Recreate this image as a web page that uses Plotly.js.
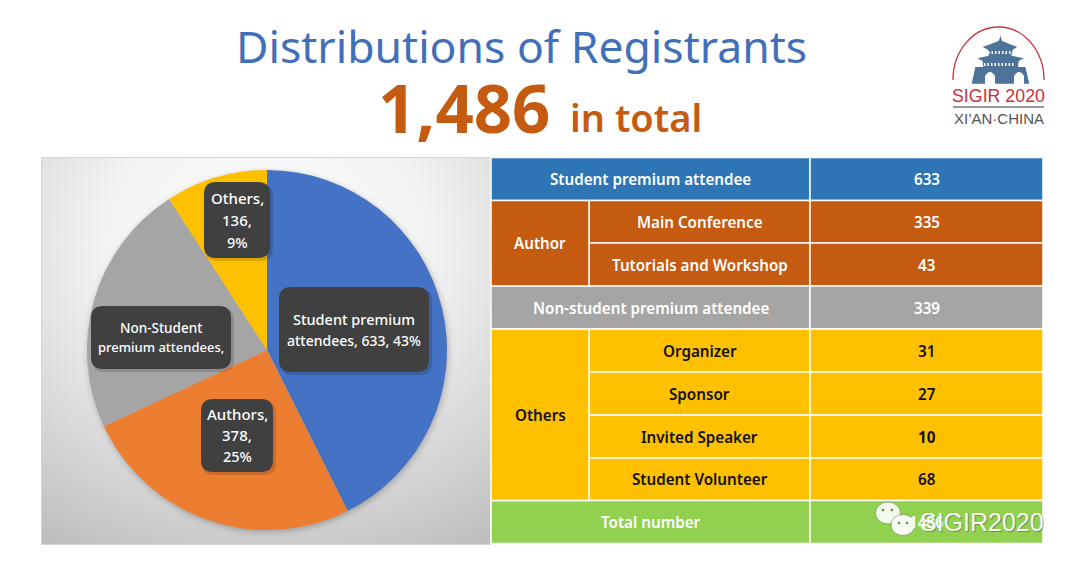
<!DOCTYPE html>
<html>
<head>
<meta charset="utf-8">
<script src="https://cdn.plot.ly/plotly-3.0.1.min.js"></script>
<style>
html, body { margin: 0; padding: 0; background: #fff; }
#wrap { position: relative; width: 1080px; height: 568px; overflow: hidden; }
#panel {
    position: absolute; left: 41px; top: 157px; width: 448px; height: 386px;
    border: 1px solid #d4d4d4;
    background: radial-gradient(ellipse 92% 92% at 50% 22%, #ffffff 0%, #f2f2f2 40%, #d0d0d0 80%, #bdbdbd 100%);
}
#chart { position: absolute; left: 0; top: 0; }
.pielayer { filter: drop-shadow(1px 2px 3px rgba(0,0,0,0.25)); }
</style>
</head>
<body>
<div id="wrap">
    <div id="panel"></div>
    <div id="chart"></div>
</div>
<script>
var W = 1080, H = 568;

// pie data
var pieCategories = ['Student premium attendees', 'Authors', 'Non-Student premium attendees', 'Others'];
var pieValues = [633, 378, 339, 136];
var piePercents = ['43%', '25%', '', '9%'];

// table data
var tableGroups = ['Author', 'Others'];
var tableLabels = ['Student premium attendee', 'Main Conference', 'Tutorials and Workshop',
    'Non-student premium attendee', 'Organizer', 'Sponsor', 'Invited Speaker', 'Student Volunteer', 'Total number'];
var tableValues = [633, 335, 43, 339, 31, 27, 10, 68, 1486];

var titleText = 'Distributions of Registrants';
var totalText = '1,486';
var totalSuffix = 'in total';

// geometry, all in page pixels
var colX = [491, 589, 810, 1043];
var rowY = [157.5, 200.5, 243, 286, 329, 372, 415, 458, 500.5, 543.5];
var baseFont = 'Noto Sans, sans-serif';
var logoFont = 'Liberation Sans, sans-serif';

function px(x) { return x / W; }
function py(y) { return 1 - y / H; }

var shapes = [];
var annotations = [];

function rect(x0, y0, x1, y1, fill) {
    shapes.push({
        type: 'rect', xref: 'paper', yref: 'paper', layer: 'above',
        x0: px(x0), x1: px(x1), y0: py(y0), y1: py(y1),
        fillcolor: fill, line: { color: '#ffffff', width: 1.5 }
    });
}

function text(x, y, str, size, color, weight, family) {
    annotations.push({
        xref: 'paper', yref: 'paper', x: px(x), y: py(y), text: str, showarrow: false,
        xanchor: 'center', yanchor: 'middle', align: 'center',
        borderpad: 0, borderwidth: 0,
        font: { size: size, color: color, weight: weight || 400, family: family || baseFont }
    });
}

// path helper, shape paths live in paper space here so y gets flipped by hand
function addPath(cmds, fill, lineColor, lineWidth, closed) {
    var p = cmds.map(function (c) {
        var out = c[0];
        for (var i = 1; i < c.length; i += 2) {
            out += (i > 1 ? ' ' : '') + px(c[i]) + ',' + py(c[i + 1]);
        }
        return out;
    }).join(' ');
    if (closed !== false) p += ' Z';
    shapes.push({
        type: 'path', xref: 'paper', yref: 'paper', layer: 'above', path: p,
        fillcolor: fill, line: { color: lineColor || 'rgba(0,0,0,0)', width: lineWidth || 0 }
    });
}

function roundBox(x0, y0, x1, y1, r, fill) {
    addPath([
        ['M', x0 + r, y0], ['L', x1 - r, y0], ['Q', x1, y0, x1, y0 + r],
        ['L', x1, y1 - r], ['Q', x1, y1, x1 - r, y1],
        ['L', x0 + r, y1], ['Q', x0, y1, x0, y1 - r],
        ['L', x0, y0 + r], ['Q', x0, y0, x0 + r, y0]
    ], fill);
}

function labelBox(x0, y0, x1, y1) {
    roundBox(x0 + 1, y0 + 2, x1 + 3, y1 + 3, 12, 'rgba(0,0,0,0.14)');
    roundBox(x0, y0, x1, y1, 12, '#404040');
}

function ellipse(cx, cy, rx, ry, fill, lineColor) {
    shapes.push({
        type: 'circle', xref: 'paper', yref: 'paper', layer: 'above',
        x0: px(cx - rx), x1: px(cx + rx), y0: py(cy + ry), y1: py(cy - ry),
        fillcolor: fill, line: { color: lineColor || 'rgba(0,0,0,0)', width: lineColor ? 1 : 0 }
    });
}

// title
text(521.5, 45.5, titleText, 44.5, '#4270B8', 400);
text(463.5, 107, totalText, 67, '#C55A11', 700);
text(636, 117, totalSuffix, 38, '#C55A11', 600);

// pie labels
labelBox(279, 287, 429, 372);
text(354, 319, 'Student premium', 14.5, '#fff', 500);
text(354, 340, 'attendees, ' + pieValues[0] + ', ' + piePercents[0], 14, '#fff', 500);
labelBox(201, 399, 273, 472);
text(237, 414, pieCategories[1] + ',', 15, '#fff', 500);
text(237, 435, pieValues[1] + ',', 15, '#fff', 500);
text(237, 456, piePercents[1], 14.5, '#fff', 500);
labelBox(91, 306, 231, 369);
text(161, 328, 'Non-Student', 13.5, '#fff', 500);
text(160.5, 347, 'premium attendees,', 13, '#fff', 500);
labelBox(204, 182, 270, 258);
text(237, 198, pieCategories[3] + ',', 15, '#fff', 500);
text(237, 220, pieValues[3] + ',', 15, '#fff', 500);
text(237, 242, piePercents[3], 14.5, '#fff', 500);

// table cells
var blue = '#2E75B6', rust = '#C55A11', gray = '#A5A5A5', gold = '#FFC000', green = '#92D050';
var rowFill = [blue, rust, rust, gray, gold, gold, gold, gold, green];
var rowInk = ['#fff', '#fff', '#fff', '#fff', '#111', '#111', '#111', '#111', '#fff'];
var nested = [false, true, true, false, true, true, true, true, false];
var cellSize = 15.2, cellWeight = 600;

for (var i = 0; i < tableLabels.length; i++) {
    var y0 = rowY[i], y1 = rowY[i + 1], yc = (y0 + y1) / 2;
    var lx = nested[i] ? colX[1] : colX[0];
    rect(lx, y0, colX[2], y1, rowFill[i]);
    rect(colX[2], y0, colX[3], y1, rowFill[i]);
    text((lx + colX[2]) / 2, yc, tableLabels[i], cellSize, rowInk[i], cellWeight);
    text((colX[2] + colX[3]) / 2, yc, String(tableValues[i]), cellSize, rowInk[i], i === 6 ? 700 : cellWeight);
}
rect(colX[0], rowY[1], colX[1], rowY[3], rust);
text((colX[0] + colX[1]) / 2, (rowY[1] + rowY[3]) / 2, tableGroups[0], cellSize, '#fff', cellWeight);
rect(colX[0], rowY[4], colX[1], rowY[8], gold);
text((colX[0] + colX[1]) / 2, (rowY[4] + rowY[8]) / 2, tableGroups[1], cellSize, '#111', cellWeight);

// logo: arc, tower, wordmark
addPath([['M', 953, 80], ['C', 953, 51, 973, 27, 998.5, 27], ['C', 1024, 27, 1044, 51, 1044, 80]],
    'rgba(0,0,0,0)', '#C8323C', 1.3, false);
var towerBlue = '#4F7398';
function tower(points) {
    addPath(points.map(function (p, i) { return [i ? 'L' : 'M', 930 + p[0] / 3, 15 + p[1] / 3]; }), towerBlue);
}
tower([[212, 62], [216, 78], [262, 96], [248, 104], [244, 122], [282, 130], [266, 138], [264, 156], [286, 156], [298, 206],
    [125, 206], [136, 156], [160, 156], [158, 138], [143, 130], [176, 122], [174, 104], [158, 96], [206, 78]]);
// arches in the base wall
function arch(cx) {
    addPath([['M', cx - 5, 84], ['L', cx - 5, 76], ['Q', cx, 68, cx + 5, 76], ['L', cx + 5, 84]], '#fff');
}
arch(990); arch(1019);
// window strips
[[988, 1009, 51], [984, 1013, 63]].forEach(function (s) {
    for (var x = s[0]; x <= s[1]; x += 3.5) {
        shapes.push({
            type: 'rect', xref: 'paper', yref: 'paper', layer: 'above',
            x0: px(x), x1: px(x + 1.5), y0: py(s[2] + 3), y1: py(s[2]),
            fillcolor: '#fff', line: { width: 0 }
        });
    }
});
text(998.5, 96, 'SIGIR 2020', 17.8, '#C8323C', 400, logoFont);
shapes.push({
    type: 'line', xref: 'paper', yref: 'paper', layer: 'above',
    x0: px(953), x1: px(1044), y0: py(107), y1: py(107), line: { color: '#777', width: 1.3 }
});
text(998.5, 118, "XI\u2019AN\u00B7CHINA", 15, '#555', 400, logoFont);

// watermark over the total row
ellipse(888, 513, 12.5, 11, 'rgba(255,255,255,0.88)', 'rgba(90,110,70,0.5)');
ellipse(903, 525, 12, 10.5, 'rgba(255,255,255,0.92)', 'rgba(90,110,70,0.5)');
[[883, 510], [892, 510], [899, 523], [907, 523]].forEach(function (d) {
    ellipse(d[0], d[1], 1.3, 1.3, '#6a8a50');
});
text(982.5, 523, 'SIGIR2020', 25, 'rgba(90,90,90,0.55)', 400, logoFont);
text(981.5, 522, 'SIGIR2020', 25, 'rgba(255,255,255,0.95)', 400, logoFont);

var trace = {
    type: 'pie',
    labels: pieCategories,
    values: pieValues,
    sort: false,
    direction: 'clockwise',
    rotation: 0,
    textinfo: 'none',
    hoverinfo: 'label+value+percent',
    marker: { colors: ['#4472C4', '#ED7D31', '#A5A5A5', '#FFC000'], line: { width: 0 } },
    domain: { x: [px(87), px(447)], y: [py(530), py(170)] }
};

var layout = {
    width: W,
    height: H,
    margin: { l: 0, r: 0, t: 0, b: 0, pad: 0 },
    paper_bgcolor: 'rgba(0,0,0,0)',
    plot_bgcolor: 'rgba(0,0,0,0)',
    showlegend: false,
    shapes: shapes,
    annotations: annotations
};

Plotly.newPlot('chart', [trace], layout, { displayModeBar: false, staticPlot: true });
</script>
</body>
</html>
